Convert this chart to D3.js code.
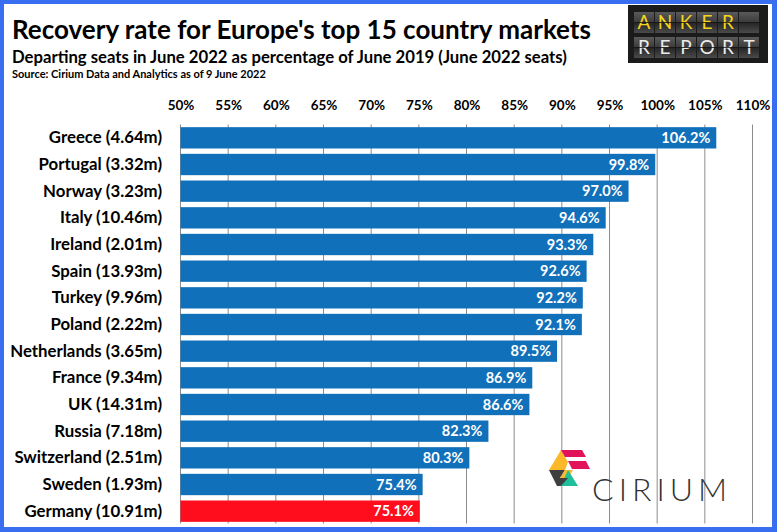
<!DOCTYPE html>
<html><head><meta charset="utf-8">
<script src="https://cdn.jsdelivr.net/npm/d3@7"></script>
<style>
html,body{margin:0;padding:0;background:#fff;}
svg{display:block;}
text{font-family:Lato,"Open Sans",sans-serif;}
</style></head>
<body>
<script>
const categories = ["Greece (4.64m)","Portugal (3.32m)","Norway (3.23m)","Italy (10.46m)","Ireland (2.01m)","Spain (13.93m)","Turkey (9.96m)","Poland (2.22m)","Netherlands (3.65m)","France (9.34m)","UK (14.31m)","Russia (7.18m)","Switzerland (2.51m)","Sweden (1.93m)","Germany (10.91m)"];
const values = [106.2,99.8,97.0,94.6,93.3,92.6,92.2,92.1,89.5,86.9,86.6,82.3,80.3,75.4,75.1];
const highlight = ["Germany (10.91m)"];
const tickValues = [50,55,60,65,70,75,80,85,90,95,100,105,110];
const title = "Recovery rate for Europe's top 15 country markets";
const subtitle = "Departing seats in June 2022 as percentage of June 2019 (June 2022 seats)";
const source = "Source: Cirium Data and Analytics as of 9 June 2022";

const W = 777, H = 532;
const svg = d3.select("body").append("svg").attr("width", W).attr("height", H);

// frame
svg.append("rect").attr("x",0).attr("y",0).attr("width",W).attr("height",H).attr("fill","#3a6ef0");
svg.append("rect").attr("x",4).attr("y",4).attr("width",768).attr("height",523).attr("fill","#fff");

const x = d3.scaleLinear().domain([50,110]).range([180.5,752.5]);
const y = d3.scaleBand().domain(categories).range([124.5,524.5]).paddingInner(0.2).paddingOuter(0.1);

// gridlines
svg.append("g").selectAll("line").data(tickValues).join("line")
  .attr("x1", d=>x(d)).attr("x2", d=>x(d))
  .attr("y1", 124.5).attr("y2", 523.5)
  .attr("stroke","#8c8c8c").attr("stroke-width",1);

// top axis labels
const ax = svg.append("g").attr("transform","translate(0,110)")
  .call(d3.axisTop(x).tickValues(tickValues).tickSize(0).tickPadding(0).tickFormat(d=>d+"%"));
ax.select(".domain").remove();
ax.selectAll("text").attr("font-family","Lato, sans-serif").attr("font-weight","bold").attr("font-size","13.5px").attr("fill","#000").attr("dy","0");

// bars
svg.append("g").selectAll("rect").data(categories).join("rect")
  .attr("x", x(50)).attr("y", d=>y(d))
  .attr("width", (d,i)=>x(values[i])-x(50))
  .attr("height", y.bandwidth())
  .attr("fill", d=>highlight.includes(d)?"#ff0d1c":"#1170ba");

// value labels
svg.append("g").selectAll("text").data(categories).join("text")
  .attr("x", (d,i)=>x(values[i])-6)
  .attr("y", d=>y(d)+y.bandwidth()/2+5)
  .attr("text-anchor","end").attr("fill","#fff")
  .attr("font-weight","bold").attr("font-size","14.5px")
  .text((d,i)=>values[i].toFixed(1)+"%");

// category labels
svg.append("g").selectAll("text").data(categories).join("text")
  .attr("x", 162).attr("y", d=>y(d)+y.bandwidth()/2+5.5)
  .attr("text-anchor","end").attr("fill","#000")
  .attr("font-weight","bold").attr("font-size","16.8px")
  .text(d=>d);

// titles
svg.append("text").attr("x",12).attr("y",39).attr("font-weight","bold").attr("font-size","26px").attr("fill","#000").text(title);
svg.append("text").attr("x",12).attr("y",63).attr("font-weight","bold").attr("font-size","16.7px").attr("fill","#000").text(subtitle);
svg.append("text").attr("x",12).attr("y",78).attr("font-weight","bold").attr("font-size","11px").attr("fill","#000").text(source);

// Anker Report logo
const lg = svg.append("g");
lg.append("rect").attr("x",628).attr("y",5).attr("width",140).attr("height",58).attr("fill","#1b1b1b");
const defs = svg.append("defs");
const gr = defs.append("linearGradient").attr("id","tile").attr("x1",0).attr("y1",0).attr("x2",0).attr("y2",1);
gr.append("stop").attr("offset","0%").attr("stop-color","#5a5a5a");
gr.append("stop").attr("offset","48%").attr("stop-color","#3c3c3c");
gr.append("stop").attr("offset","52%").attr("stop-color","#262626");
gr.append("stop").attr("offset","100%").attr("stop-color","#4a4a4a");
const rows = [{t:"ANKER ",c:"#f3d41c",y:12},{t:"REPORT",c:"#ececec",y:37}];
rows.forEach(r=>{
  for(let i=0;i<6;i++){
    const tx = 634 + i*21;
    lg.append("rect").attr("x",tx).attr("y",r.y).attr("width",20).attr("height",21).attr("fill","url(#tile)");
    lg.append("text").attr("x",tx+10).attr("y",r.y+17).attr("text-anchor","middle")
      .attr("font-family","'DejaVu Sans Mono',monospace").attr("font-size","19px").attr("fill",r.c)
      .text(r.t[i]);
    lg.append("line").attr("x1",tx).attr("x2",tx+20).attr("y1",r.y+10.5).attr("y2",r.y+10.5).attr("stroke","#111").attr("stroke-width",0.8);
  }
});

// Cirium logo
const cl = svg.append("g");
const poly = (pts,c)=>cl.append("polygon").attr("points",pts.map(p=>p.join(",")).join(" ")).attr("fill",c);
poly([[561,450],[568,462],[565,470],[549,470]],"#fbb829");
poly([[561,450],[582,450],[586,457],[565,457]],"#e2135a");
poly([[568,461],[586,461],[590,469],[572,469]],"#e2135a");
poly([[549,470],[565,470],[560,478],[553,478]],"#3f3f3f");
poly([[565,470],[573,470],[568,478],[560,478]],"#fbb829");
poly([[568,470],[578,486],[561,486]],"#1fbf9c");
poly([[553,478],[568,478],[561,486],[557,486]],"#3f3f3f");
cl.append("text").attr("x",592).attr("y",501).attr("font-family","Lato, sans-serif").attr("font-weight","300")
  .attr("font-size","32px").attr("letter-spacing","5px").attr("fill","#333").text("CIRIUM");
</script>
</body></html>
